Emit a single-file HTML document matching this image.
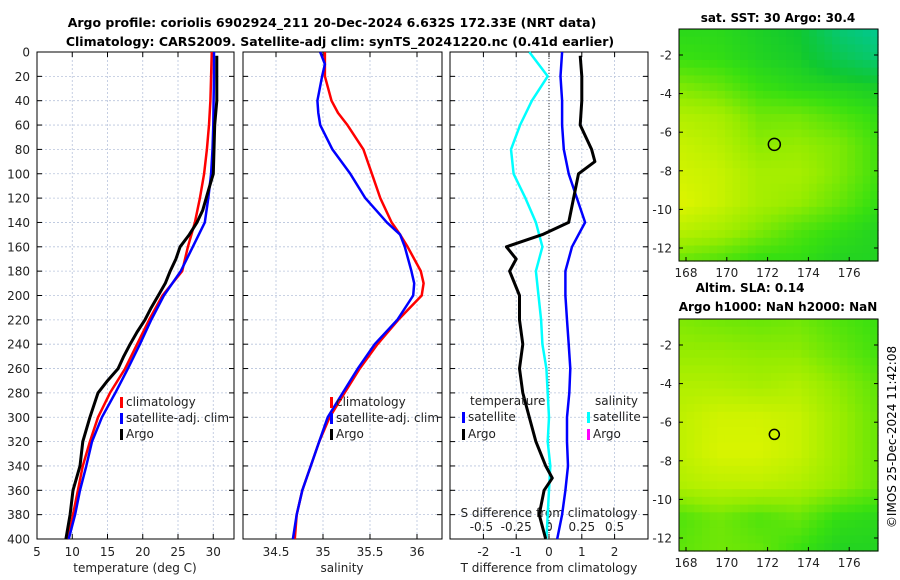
<!DOCTYPE html>
<html><head><meta charset="utf-8"><style>
body{margin:0;background:#fff;}
svg{display:block;font-family:"DejaVu Sans","Liberation Sans",sans-serif;}
</style></head><body>
<svg id="fig" width="900" height="580" viewBox="0 0 900 580">
<text x="332" y="27" text-anchor="middle" font-size="12.5" font-weight="bold">Argo profile: coriolis 6902924_211 20-Dec-2024 6.632S 172.33E (NRT data)</text>
<text x="340" y="46" text-anchor="middle" font-size="12.5" font-weight="bold">Climatology: CARS2009. Satellite-adj clim: synTS_20241220.nc (0.41d earlier)</text>
<g id="g"></g>
<text x="778" y="22" text-anchor="middle" font-size="12" font-weight="bold">sat. SST: 30 Argo: 30.4</text>
<text x="750" y="292" text-anchor="middle" font-size="12" font-weight="bold">Altim. SLA: 0.14</text>
<text x="778" y="311" text-anchor="middle" font-size="12" font-weight="bold">Argo h1000: NaN h2000: NaN</text>
<text transform="translate(896,437) rotate(-90)" text-anchor="middle" font-size="12">©IMOS 25-Dec-2024 11:42:08</text>
</svg>
<script>
const depths=[0,20,40,60,80,100,120,140,160,180,200,220,240,260,280,300,320,340,360,380,400];
const tempClim=[29.8,29.7,29.6,29.4,29.1,28.7,28.1,27.4,26.4,25.6,22.8,20.9,19.2,17.5,15.35,13.65,12.5,11.5,10.8,10.1,9.4];
const tempSat=[30.1,30.1,30.05,30.0,29.9,29.7,29.3,28.8,27.1,25.4,23.0,21.2,19.6,17.9,16.1,14.2,12.8,12.0,11.1,10.4,9.5];
const argoDepths=[3,20,40,60,80,100,110,120,130,140,150,160,170,180,190,200,210,220,230,240,250,260,270,280,300,320,340,360,380,400];
const tempArgo=[30.5,30.5,30.5,30.2,30.1,30.0,29.5,29.0,28.5,27.7,26.6,25.3,24.7,23.9,23.2,22.2,21.2,20.3,19.2,18.2,17.3,16.5,15.0,13.65,12.5,11.5,11.1,10.1,9.7,9.1];
const salDepths=[0,10,20,40,50,60,80,100,120,140,150,160,180,190,200,220,240,260,280,300,320,340,360,380,400];
const salClim=[35.02,35.02,35.02,35.09,35.16,35.26,35.43,35.52,35.61,35.73,35.82,35.9,36.04,36.07,36.05,35.8,35.58,35.39,35.23,35.07,34.96,34.87,34.78,34.72,34.70];
const salSat=[34.97,35.02,34.99,34.94,34.95,34.97,35.1,35.29,35.45,35.68,35.82,35.87,35.94,35.97,35.96,35.79,35.55,35.37,35.21,35.05,34.96,34.87,34.78,34.72,34.68];
const tdiffSat=[0.4,0.35,0.4,0.4,0.45,0.6,0.85,1.1,0.7,0.5,0.5,0.55,0.6,0.65,0.62,0.55,0.55,0.58,0.5,0.4,0.25];
const sdiffSat=[-0.15,-0.01,-0.13,-0.22,-0.29,-0.27,-0.18,-0.1,-0.05,-0.1,-0.08,-0.06,-0.05,-0.02,-0.01,0,-0.01,0.01,0,-0.01,-0.02];
const tdiffArgoDepths=[3,20,40,60,80,90,100,120,140,150,160,170,180,200,220,240,260,280,300,320,340,350,360,380,400];
const tdiffArgo=[0.95,1.0,1.0,0.95,1.3,1.4,0.9,0.75,0.6,-0.2,-1.3,-1.0,-1.2,-0.9,-0.9,-0.8,-0.9,-0.8,-0.6,-0.4,-0.1,0.1,-0.15,-0.3,-0.1];
const depthTicks=[0,20,40,60,80,100,120,140,160,180,200,220,240,260,280,300,320,340,360,380,400];
const tTicks=[5,10,15,20,25,30];
const sTicks=[34.5,35,35.5,36];
const dTicks=[-2,-1,0,1,2];
const sdTickLabels=["-0.5","-0.25","0","0.25","0.5"];
const sdTicks=[-0.5,-0.25,0,0.25,0.5];
const map1=[[.45,.45,.40,.35,.15,.05],[.50,.48,.42,.38,.25,.15],[.65,.60,.50,.45,.42,.38],[.78,.75,.62,.62,.55,.48],[.85,.80,.68,.70,.65,.52],[.88,.85,.75,.75,.65,.52],[.92,.85,.75,.70,.60,.48],[.80,.75,.65,.55,.48,.42],[.60,.55,.48,.48,.42,.42]];
const map2=[[.65,.62,.60,.62,.55,.50],[.70,.70,.68,.68,.60,.52],[.78,.78,.75,.78,.68,.58],[.82,.88,.88,.85,.72,.60],[.82,.90,.90,.85,.72,.60],[.78,.82,.82,.78,.70,.60],[.55,.62,.55,.60,.48,.45],[.58,.62,.60,.50,.42,.42]];
const latTicks=[-2,-4,-6,-8,-10,-12];
const lonTicks=[168,170,172,174,176];
const argoLon=172.33, argoLat=-6.632;

const NS='http://www.w3.org/2000/svg';
const G=document.getElementById('g');
function mk(t,a,p){const e=document.createElementNS(NS,t);for(const k in a)e.setAttribute(k,a[k]);(p||G).appendChild(e);return e;}
const Y0=52,Y1=539;
const yD=d=>Y0+d/400*(Y1-Y0);
const xT=t=>37+(t-5)*7.05;
const xS=s=>276+(s-34.5)*94;
const xTD=v=>549+v*32.8;
const xSD=v=>549+v*131.2;
function frame(x0,x1,name){
  depthTicks.forEach(d=>{mk('line',{x1:x0,x2:x1,y1:yD(d),y2:yD(d),stroke:'#b8c4dc','stroke-width':0.8,'stroke-dasharray':'2,2'});});
  const r=mk('rect',{x:x0,y:Y0,width:x1-x0,height:Y1-Y0,fill:'none',stroke:'#000','stroke-width':1});
  
  
  depthTicks.forEach(d=>{mk('line',{x1:x0,x2:x0+5,y1:yD(d),y2:yD(d),stroke:'#000'});mk('line',{x1:x1-5,x2:x1,y1:yD(d),y2:yD(d),stroke:'#000'});});
}
function vgrid(xs,x0,x1){xs.forEach(x=>{if(x>x0&&x<x1){mk('line',{x1:x,x2:x,y1:Y0,y2:Y1,stroke:'#b8c4dc','stroke-width':0.8,'stroke-dasharray':'2,2'});}
  mk('line',{x1:x,x2:x,y1:Y1,y2:Y1-5,stroke:'#000'});mk('line',{x1:x,x2:x,y1:Y0,y2:Y0+5,stroke:'#000'});});}
function line(xs,ds,fx,color,name,w){
  const pts=xs.map((v,i)=>fx(v).toFixed(1)+','+yD(ds[i]).toFixed(1)).join(' ');
  const p=mk('polyline',{points:pts,fill:'none',stroke:color,'stroke-width':w||2.5,'stroke-linejoin':'round'});
  
  
}
function txt(x,y,s,o){const t=mk('text',Object.assign({x:x,y:y,'font-size':12,fill:'#222'},o||{}));t.textContent=s;return t;}
vgrid(tTicks.map(xT),37,234);frame(37,234,'temperature-panel');
vgrid(sTicks.map(xS),243,442);frame(243,442,'salinity-panel');
vgrid(dTicks.map(xTD),450,648);frame(450,648,'difference-panel');
mk('line',{x1:549,x2:549,y1:Y0,y2:Y1,stroke:'#333','stroke-width':1,'stroke-dasharray':'1,2'});
depthTicks.forEach(d=>{const t=txt(30,yD(d)+4.5,String(d),{'text-anchor':'end'});});
tTicks.forEach(v=>{const t=txt(xT(v),556,String(v),{'text-anchor':'middle'});});
sTicks.forEach(v=>{const t=txt(xS(v),556,String(v),{'text-anchor':'middle'});});
dTicks.forEach(v=>{const t=txt(xTD(v),556,String(v),{'text-anchor':'middle'});});
sdTicks.forEach((v,i)=>{const t=txt(xSD(v)+(i==0?-2:0),531,sdTickLabels[i],{'text-anchor':'middle'});});
let t;
t=txt(135,572,'temperature (deg C)',{'text-anchor':'middle'});
t=txt(342,572,'salinity',{'text-anchor':'middle'});
t=txt(549,572,'T difference from climatology',{'text-anchor':'middle'});
t=txt(549,517,'S difference from climatology',{'text-anchor':'middle'});
line(tempClim,depths,xT,'#ff0000','temp-climatology-line');
line(tempSat,depths,xT,'#0000ff','temp-satellite-line');
line(tempArgo,argoDepths,xT,'#000000','temp-argo-line',3);
line(salClim,salDepths,xS,'#ff0000','sal-climatology-line');
line(salSat,salDepths,xS,'#0000ff','sal-satellite-line');
line(tdiffSat,depths,xTD,'#0000ff','tdiff-satellite-line');
line(sdiffSat,depths,xSD,'#00ffff','sdiff-satellite-line');
line(tdiffArgo,tdiffArgoDepths,xTD,'#000000','tdiff-argo-line',3);
function leg(x,y,c,s,n){const r=mk('rect',{x:x,y:y-9,width:3,height:11,fill:c});const tt=txt(x+6,y,s);}
leg(120,406,'#ff0000','climatology','legend-climatology');
leg(120,422,'#0000ff','satellite-adj. clim','legend-satellite-adj');
leg(120,438,'#000000','Argo','legend-argo');
leg(330,406,'#ff0000','climatology','legend2-climatology');
leg(330,422,'#0000ff','satellite-adj. clim','legend2-satellite-adj');
leg(330,438,'#000000','Argo','legend2-argo');
t=txt(470,405,'temperature');
leg(462,421,'#0000ff','satellite','legend-t-satellite');
leg(462,438,'#000000','Argo','legend-t-argo');
t=txt(595,405,'salinity');
leg(587,421,'#00ffff','satellite','legend-s-satellite');
leg(587,438,'#ff00ff','Argo','legend-s-argo');
const stops=[[0,[0,200,160]],[0.35,[16,200,48]],[0.5,[56,224,16]],[0.7,[150,236,0]],[0.9,[216,244,0]],[1,[240,240,0]]];
function cmap(v){for(let i=1;i<stops.length;i++){if(v<=stops[i][0]){const a=stops[i-1],b=stops[i];const f=(v-a[0])/(b[0]-a[0]);return 'rgb('+a[1].map((c,k)=>Math.round(c+(b[1][k]-c)*f)).join(',')+')';}}return 'rgb(240,240,0)';}
function bil(m,u,v){const R=m.length-1,C=m[0].length-1;const y=v*R,x=u*C;const i=Math.min(Math.floor(y),R-1),j=Math.min(Math.floor(x),C-1);const fy=y-i,fx=x-j;return m[i][j]*(1-fx)*(1-fy)+m[i][j+1]*fx*(1-fy)+m[i+1][j]*(1-fx)*fy+m[i+1][j+1]*fx*fy;}
function drawMap(m,x0,y0,x1,y1,latA,latB,name,cr){
  const g=mk('g',{});
  const nx=26,ny=30,cw=(x1-x0)/nx,ch=(y1-y0)/ny;
  for(let r=0;r<ny;r++)for(let c=0;c<nx;c++){mk('rect',{x:(x0+c*cw).toFixed(2),y:(y0+r*ch).toFixed(2),width:(cw+0.6).toFixed(2),height:(ch+0.6).toFixed(2),fill:cmap(bil(m,(c+0.5)/nx,(r+0.5)/ny))},g);}
  mk('rect',{x:x0,y:y0,width:x1-x0,height:y1-y0,fill:'none',stroke:'#000'},g);
  const lx=l=>686+(l-168)*20.4;
  const ly=la=>latA[1]+(la-latA[0])*(latB[1]-latA[1])/(latB[0]-latA[0]);
  latTicks.forEach(la=>{mk('line',{x1:x0,x2:x0+4,y1:ly(la),y2:ly(la),stroke:'#000'},g);mk('line',{x1:x1-4,x2:x1,y1:ly(la),y2:ly(la),stroke:'#000'},g);const tt=txt(672,ly(la)+4.5,String(la),{'text-anchor':'end'});});
  lonTicks.forEach(lo=>{mk('line',{x1:lx(lo),x2:lx(lo),y1:y1,y2:y1-4,stroke:'#000'},g);const tt=txt(lx(lo),y1+16,String(lo),{'text-anchor':'middle'});});
  const c=mk('circle',{cx:lx(argoLon),cy:ly(argoLat),r:cr,fill:'none',stroke:'#000','stroke-width':1.5},g);
  
}
drawMap(map1,679,29,878,261,[-2,55],[-12,248],'sst-map',6);
drawMap(map2,679,319,878,551,[-2,345],[-12,538],'sla-map',5);
</script>
</body></html>
